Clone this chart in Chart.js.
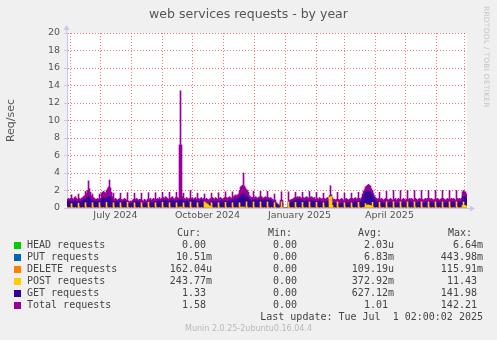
<!DOCTYPE html>
<html lang="en">
<head>
  <meta charset="UTF-8" />
  <title>web services requests - by year</title>
  <script src="https://cdn.jsdelivr.net/npm/chart.js"></script>
  <style>
    body {
      margin: 0;
      background: #f0f0f0;
      font-family: 'DejaVu Sans', sans-serif;
    }
    .wrap {
      position: relative;
      width: 497px;
      height: 340px;
      overflow: hidden;
    }
    #chart {
      position: absolute;
      left: 0;
      top: 0;
    }
    .title {
      position: absolute;
      top: 6px;
      left: 0;
      width: 497px;
      text-align: center;
      font-size: 12.5px;
      line-height: 16px;
      color: #555;
    }
    .rrd {
      position: absolute;
      left: 482px;
      top: 6px;
      writing-mode: vertical-rl;
      font-size: 7.4px;
      color: #c4c4c4;
      letter-spacing: 0.3px;
    }
    .legend div {
      position: absolute;
      font-family: 'DejaVu Sans Mono', monospace;
      font-size: 10px;
      line-height: 12px;
      color: #444;
      white-space: pre;
    }
    .legend .sw {
      width: 7px;
      height: 7px;
    }
    .legend .r {
      text-align: right;
    }
    .footer {
      position: absolute;
      top: 324px;
      left: 0;
      width: 497px;
      text-align: center;
      font-size: 8px;
      line-height: 10px;
      color: #b8b8b8;
    }
  </style>
</head>
<body>
<div class="wrap">
  <canvas id="chart" width="497" height="230"></canvas>
  <div class="title">web services requests - by year</div>
  <div class="rrd">RRDTOOL / TOBI OETIKER</div>
  <div class="legend" id="legend"></div>
  <div class="footer">Munin 2.0.25-2ubuntu0.16.04.4</div>
</div>

<script>
  // one value per day, 400 days (one pixel each)
  const totalReq = [
    1.0, 1.1, 1.0, 1.1,
    1.5, 1.1, 1.0, 1.2, 1.3, 1.1, 1.0,
    1.6, 1.1, 1.0, 1.1, 1.2, 1.3, 1.4,
    1.9, 1.7, 2.0, 3.1, 2.2, 1.8, 1.4,
    1.6, 1.2, 1.1, 1.0, 1.0, 1.1, 1.0,
    1.6, 1.1, 1.7, 1.8, 1.9, 1.8, 1.7,
    2.0, 2.2, 2.4, 3.2, 2.3, 1.8, 1.3,
    1.7, 1.0, 1.1, 1.0, 0.9, 1.0, 1.1,
    1.7, 1.0, 0.9, 1.0, 1.1, 1.0, 0.9,
    1.75, 0.8, 0.7, 0.8, 0.7, 0.9, 1.0,
    1.7, 1.0, 1.1, 1.0, 0.9, 1.0, 1.0,
    1.7, 0.9, 0.8, 1.0, 0.9, 0.8, 1.0,
    1.75, 1.0, 1.1, 0.9, 1.0, 1.1, 1.0,
    1.75, 1.0, 1.1, 1.0, 1.2, 1.0, 1.1,
    1.8, 1.2, 1.1, 1.3, 1.2, 1.1, 1.0,
    1.8, 1.1, 1.2, 1.3, 1.1, 1.0, 1.2,
    1.8, 1.2, 1.1, 7.2, 13.4, 7.2, 1.3,
    1.7, 1.1, 1.0, 1.2, 1.1, 1.0, 1.1,
    2.0, 1.1, 1.2, 1.0, 1.1, 1.2, 1.0,
    1.7, 1.1, 1.0, 1.1, 1.2, 1.0, 1.1,
    1.6, 1.0, 1.1, 1.0, 0.9, 1.0, 1.1,
    1.7, 1.2, 1.1, 1.0, 1.2, 1.1, 1.0,
    1.75, 1.1, 1.2, 1.1, 1.0, 1.1, 1.2,
    1.85, 1.2, 1.1, 1.2, 1.3, 1.2, 1.1,
    1.85, 1.3, 1.4, 1.5, 1.4, 1.5, 1.6,
    2.0, 2.4, 2.5, 2.6, 4.0, 2.5, 2.3,
    2.1, 2.0, 1.8, 1.4, 1.3, 1.2, 1.2,
    1.9, 1.2, 1.3, 1.2, 1.1, 1.2, 1.3,
    1.9, 1.3, 1.2, 1.1, 1.2, 1.3, 1.2,
    1.9, 1.2, 1.1, 1.2, 1.1, 1.0, 0.9,
    1.6, 0.9, 0.6, 0.5, 0.4, 0.2, 0.9,
    1.85, 0.9, 0.05, 0, 0, 0.05, 0,
    1.85, 0.9, 0.9, 1.0, 1.0, 1.1, 1.2,
    1.8, 1.2, 1.3, 1.2, 1.3, 1.2, 1.1,
    1.8, 1.2, 1.1, 1.2, 1.3, 1.2, 1.1,
    1.9, 1.2, 1.3, 1.2, 1.1, 1.2, 1.0,
    1.8, 1.1, 1.0, 1.2, 1.1, 1.0, 1.1,
    1.7, 1.1, 1.0, 1.1, 1.2, 1.0, 1.4,
    2.55, 1.5, 1.2, 1.0, 1.0, 0.9, 1.0,
    1.8, 1.0, 0.9, 1.0, 1.1, 1.0, 0.9,
    1.7, 1.0, 1.1, 1.0, 0.9, 1.0, 1.1,
    1.7, 1.1, 1.0, 1.1, 1.2, 1.0, 1.1,
    1.8, 1.1, 1.0, 1.2, 1.6, 1.9, 2.1,
    2.4, 2.5, 2.6, 2.7, 2.6, 2.5, 2.2,
    2.0, 1.7, 1.4, 1.2, 1.1, 1.0, 1.1,
    1.8, 1.0, 1.1, 1.0, 0.9, 1.0, 1.1,
    1.9, 1.0, 0.9, 1.0, 1.1, 1.0, 0.9,
    2.0, 1.0, 1.1, 0.9, 1.0, 1.1, 1.0,
    2.0, 0.9, 1.0, 1.1, 1.0, 0.9, 1.0,
    2.0, 1.0, 1.1, 1.0, 1.1, 1.0, 0.9,
    2.0, 1.1, 1.0, 0.9, 1.0, 1.1, 1.0,
    2.0, 1.0, 0.9, 1.0, 1.1, 1.0, 1.1,
    2.0, 1.1, 1.0, 1.1, 1.0, 0.9, 1.0,
    2.0, 1.0, 1.1, 1.0, 0.9, 1.0, 1.1,
    2.0, 1.1, 1.0, 0.9, 1.0, 1.1, 1.0,
    2.0, 1.0, 1.1, 1.0, 1.1, 1.0, 0.9,
    2.0, 1.1, 1.0, 1.1, 1.0, 1.1, 1.85,
    2.0, 1.85, 1.85, 1.6
  ];

  const getReq = [
    0.8, 0.8, 0.7, 0.8,
    0.7, 0.8, 0.7, 0.8, 0.9, 0.7, 0.6,
    0.7, 0.8, 0.7, 0.6, 0.8, 0.9, 1.0,
    1.0, 1.1, 1.2, 1.3, 1.2, 1.0, 0.9,
    0.8, 0.7, 0.8, 0.7, 0.6, 0.8, 0.7,
    0.8, 0.7, 1.0, 1.1, 1.2, 1.1, 1.0,
    1.1, 1.2, 1.3, 1.3, 1.2, 1.0, 0.8,
    0.7, 0.6, 0.7, 0.8, 0.6, 0.7, 0.8,
    0.7, 0.7, 0.6, 0.7, 0.8, 0.7, 0.6,
    0.6, 0.5, 0.4, 0.5, 0.4, 0.6, 0.7,
    0.7, 0.7, 0.8, 0.7, 0.6, 0.7, 0.6,
    0.6, 0.5, 0.5, 0.6, 0.5, 0.4, 0.6,
    0.6, 0.6, 0.7, 0.5, 0.6, 0.7, 0.6,
    0.7, 0.7, 0.8, 0.7, 0.8, 0.7, 0.7,
    0.8, 0.9, 0.8, 0.9, 0.9, 0.8, 0.7,
    0.8, 0.8, 0.9, 0.9, 0.8, 0.7, 0.8,
    0.8, 0.9, 0.8, 0.9, 1.0, 0.9, 0.9,
    0.8, 0.8, 0.7, 0.8, 0.8, 0.7, 0.8,
    0.9, 0.8, 0.9, 0.7, 0.8, 0.9, 0.7,
    0.8, 0.8, 0.7, 0.8, 0.9, 0.7, 0.8,
    0.6, 0.5, 0.5, 0.5, 0.4, 0.5, 0.6,
    0.7, 0.8, 0.7, 0.6, 0.8, 0.7, 0.6,
    0.8, 0.7, 0.8, 0.8, 0.7, 0.8, 0.8,
    0.8, 0.8, 0.7, 0.8, 0.9, 0.8, 0.7,
    0.9, 0.9, 1.0, 1.1, 1.0, 1.0, 1.1,
    1.2, 1.4, 1.5, 1.5, 1.6, 1.5, 1.4,
    1.3, 1.2, 1.1, 0.9, 0.9, 0.8, 0.9,
    0.9, 0.9, 1.0, 0.9, 0.8, 0.9, 1.0,
    0.9, 1.0, 0.9, 0.8, 0.9, 1.0, 0.9,
    0.9, 0.9, 0.8, 0.9, 0.8, 0.7, 0.6,
    0.6, 0.6, 0.4, 0.3, 0.3, 0.1, 0.6,
    0.6, 0.6, 0, 0, 0, 0, 0,
    0.6, 0.6, 0.6, 0.7, 0.7, 0.8, 0.9,
    0.9, 0.9, 1.0, 0.9, 1.0, 0.9, 0.8,
    0.8, 0.8, 0.7, 0.8, 0.9, 0.8, 0.7,
    0.8, 0.8, 0.9, 0.8, 0.7, 0.8, 0.7,
    0.7, 0.7, 0.6, 0.8, 0.7, 0.6, 0.7,
    0.6, 0.7, 0.6, 0.7, 0.8, 0.6, 0.6,
    0.8, 0.6, 0.6, 0.5, 0.6, 0.5, 0.5,
    0.5, 0.5, 0.4, 0.5, 0.6, 0.5, 0.4,
    0.6, 0.6, 0.7, 0.6, 0.5, 0.6, 0.7,
    0.6, 0.7, 0.6, 0.7, 0.8, 0.6, 0.7,
    0.7, 0.7, 0.6, 0.8, 1.1, 1.4, 1.6,
    1.8, 1.9, 2.0, 2.0, 1.9, 1.8, 1.6,
    1.4, 1.2, 1.0, 0.8, 0.7, 0.6, 0.7,
    0.6, 0.6, 0.7, 0.6, 0.5, 0.6, 0.7,
    0.6, 0.6, 0.5, 0.6, 0.7, 0.6, 0.5,
    0.6, 0.5, 0.6, 0.4, 0.5, 0.6, 0.5,
    0.6, 0.5, 0.6, 0.7, 0.6, 0.5, 0.6,
    0.7, 0.6, 0.7, 0.6, 0.7, 0.6, 0.5,
    0.6, 0.7, 0.6, 0.5, 0.6, 0.7, 0.6,
    0.6, 0.6, 0.5, 0.6, 0.7, 0.6, 0.7,
    0.7, 0.7, 0.6, 0.7, 0.6, 0.5, 0.6,
    0.6, 0.6, 0.7, 0.6, 0.5, 0.6, 0.7,
    0.7, 0.7, 0.6, 0.5, 0.6, 0.7, 0.6,
    0.6, 0.6, 0.7, 0.6, 0.7, 0.6, 0.5,
    0.6, 0.7, 0.6, 0.7, 0.6, 0.7, 1.3,
    0.8, 1.3, 1.3, 1.1
  ];

  const postReq = [
    0.1, 0, 0.05, 0,
    0.5, 0.1, 0, 0, 0.05, 0, 0,
    0.55, 0.1, 0, 0, 0.05, 0, 0,
    0.6, 0.1, 0, 0, 0.05, 0, 0,
    0.6, 0.1, 0, 0, 0.05, 0, 0,
    0.6, 0.1, 0, 0, 0.05, 0, 0,
    0.65, 0.1, 0, 0, 0.05, 0, 0,
    0.6, 0.1, 0, 0, 0.05, 0, 0,
    0.6, 0.1, 0, 0, 0.05, 0, 0,
    0.65, 0.1, 0, 0, 0.05, 0, 0,
    0.6, 0.1, 0, 0, 0.05, 0, 0,
    0.6, 0.1, 0, 0, 0.05, 0, 0,
    0.65, 0.1, 0, 0, 0.05, 0, 0,
    0.6, 0.1, 0, 0, 0.05, 0, 0,
    0.65, 0.1, 0, 0, 0.05, 0, 0,
    0.6, 0.1, 0, 0, 0.05, 0, 0,
    0.6, 0.1, 0, 0.1, 0.1, 0.1, 0,
    0.6, 0.1, 0, 0, 0.05, 0, 0,
    0.7, 0.1, 0, 0, 0.05, 0, 0,
    0.6, 0.1, 0, 0, 0.05, 0, 0,
    0.7, 0.6, 0.5, 0.45, 0.35, 0.25, 0.15,
    0.6, 0.1, 0, 0, 0.05, 0, 0,
    0.6, 0.1, 0, 0, 0.05, 0, 0,
    0.65, 0.1, 0, 0, 0.05, 0, 0,
    0.6, 0.1, 0, 0, 0.05, 0, 0,
    0.6, 0.1, 0.1, 0.1, 0.1, 0.1, 0,
    0.7, 0.1, 0, 0, 0.05, 0, 0,
    0.7, 0.1, 0, 0, 0.05, 0, 0,
    0.7, 0.1, 0, 0, 0.05, 0, 0,
    0.7, 0.1, 0, 0, 0.05, 0, 0,
    0.6, 0.1, 0, 0, 0, 0, 0.1,
    0.7, 0.1, 0, 0, 0, 0, 0,
    0.7, 0.1, 0, 0, 0.05, 0, 0,
    0.65, 0.1, 0, 0, 0.05, 0, 0,
    0.65, 0.1, 0, 0, 0.05, 0, 0,
    0.7, 0.1, 0, 0, 0.05, 0, 0,
    0.65, 0.1, 0, 0, 0.05, 0, 0,
    0.6, 0.1, 0, 0, 0.05, 0, 1.2,
    1.3, 1.3, 0.3, 0, 0.05, 0, 0,
    0.7, 0.1, 0, 0, 0.05, 0, 0,
    0.6, 0.1, 0, 0, 0.05, 0, 0,
    0.6, 0.1, 0, 0, 0.05, 0, 0,
    0.65, 0.1, 0, 0, 0.05, 0, 0.1,
    0.5, 0.3, 0.35, 0.35, 0.3, 0.3, 0.2,
    0.65, 0.1, 0, 0, 0.05, 0, 0,
    0.65, 0.1, 0, 0, 0.05, 0, 0,
    0.7, 0.1, 0, 0, 0.05, 0, 0,
    0.7, 0.1, 0, 0, 0.05, 0, 0,
    0.7, 0.1, 0, 0, 0.05, 0, 0,
    0.7, 0.1, 0, 0, 0.05, 0, 0,
    0.7, 0.1, 0, 0, 0.05, 0, 0,
    0.7, 0.1, 0, 0, 0.05, 0, 0,
    0.7, 0.1, 0, 0, 0.05, 0, 0,
    0.7, 0.1, 0, 0, 0.05, 0, 0,
    0.7, 0.1, 0, 0, 0.05, 0, 0,
    0.7, 0.1, 0, 0, 0.05, 0, 0,
    0.7, 0.1, 0, 0, 0.05, 0, 0.3,
    0.7, 0.3, 0.3, 0.2
  ];

  // day index of each month start (Jun 2024 .. Jul 2025)
  const monthLines = [3, 33, 64, 95, 125, 156, 187, 218, 249, 277, 308, 338, 369, 397];
  // labels sit in the middle of their month
  const labelDays = [48.5, 140.5, 232.5, 322.5];
  const labelTexts = ["July 2024", "October 2024", "January 2025", "April 2025"];

  const series = [
    { name: "HEAD requests", color: "#00cc00", cur: "0.00 ", min: "0.00 ", avg: "2.03u", max: "6.64m" },
    { name: "PUT requests", color: "#0066b3", cur: "10.51m", min: "0.00 ", avg: "6.83m", max: "443.98m" },
    { name: "DELETE requests", color: "#ff8000", cur: "162.04u", min: "0.00 ", avg: "109.19u", max: "115.91m" },
    { name: "POST requests", color: "#ffcc00", cur: "243.77m", min: "0.00 ", avg: "372.92m", max: "11.43 " },
    { name: "GET requests", color: "#330099", cur: "1.33 ", min: "0.00 ", avg: "627.12m", max: "141.98 " },
    { name: "Total requests", color: "#990099", cur: "1.58 ", min: "0.00 ", avg: "1.01 ", max: "142.21 " }
  ];

  const gridRed = "rgba(232, 90, 90, 0.8)";
  const axisBlue = "#c8c8ee";

  const pts = arr => arr.map((v, i) => ({ x: i + 0.5, y: v }));

  // white plot background and the little axis arrows
  const plotDeco = {
    id: "plotDeco",
    beforeDraw(chart) {
      const { ctx, chartArea: a } = chart;
      ctx.save();
      ctx.fillStyle = "#ffffff";
      ctx.fillRect(a.left, a.top, a.right - a.left, a.bottom - a.top);
      ctx.restore();
    },
    afterDraw(chart) {
      const { ctx, chartArea: a } = chart;
      ctx.save();
      ctx.strokeStyle = axisBlue;
      ctx.fillStyle = axisBlue;
      ctx.lineWidth = 1;
      ctx.beginPath();
      ctx.moveTo(a.left - 0.5, a.top);
      ctx.lineTo(a.left - 0.5, a.top - 5);
      ctx.moveTo(a.right, a.bottom + 0.5);
      ctx.lineTo(a.right + 5, a.bottom + 0.5);
      ctx.stroke();
      ctx.beginPath();
      ctx.moveTo(a.left - 3.5, a.top - 3);
      ctx.lineTo(a.left + 2.5, a.top - 3);
      ctx.lineTo(a.left - 0.5, a.top - 8);
      ctx.closePath();
      ctx.fill();
      ctx.beginPath();
      ctx.moveTo(a.right + 3, a.bottom - 2.5);
      ctx.lineTo(a.right + 3, a.bottom + 3.5);
      ctx.lineTo(a.right + 8, a.bottom + 0.5);
      ctx.closePath();
      ctx.fill();
      ctx.restore();
    }
  };

  new Chart(document.getElementById("chart"), {
    type: "bar",
    data: {
      datasets: [
        { label: "POST requests", data: pts(postReq), backgroundColor: "#ffcc00" },
        { label: "GET requests", data: pts(getReq), backgroundColor: "#330099" },
        { label: "Total requests", data: pts(totalReq), backgroundColor: "#990099" }
      ]
    },
    options: {
      responsive: false,
      animation: false,
      grouped: false,
      categoryPercentage: 1,
      barPercentage: 1,
      layout: { padding: { top: 33, right: 30, left: 0, bottom: 0 } },
      plugins: {
        legend: { display: false },
        tooltip: { enabled: false }
      },
      scales: {
        x: {
          type: "linear",
          min: 0,
          max: 400,
          offset: false,
          z: 1,
          afterBuildTicks: s => { s.ticks = monthLines.map(v => ({ value: v })); },
          afterFit: s => { s.height = 0; },
          ticks: { display: false },
          grid: { color: gridRed, drawTicks: false, lineWidth: 1, offset: false },
          border: { display: true, color: axisBlue, dash: [1, 2] }
        },
        xl: {
          type: "linear",
          position: "bottom",
          min: 0,
          max: 400,
          offset: false,
          afterBuildTicks: s => { s.ticks = labelDays.map(v => ({ value: v })); },
          afterFit: s => { s.height = 22; },
          grid: { display: false, drawTicks: false },
          border: { display: false },
          ticks: {
            autoSkip: false,
            maxRotation: 0,
            padding: 2,
            color: "#555",
            font: { family: "DejaVu Sans", size: 9.5 },
            callback: (v, i) => labelTexts[i]
          }
        },
        y: {
          min: 0,
          max: 20,
          z: 1,
          afterFit: s => { s.width = 67; },
          ticks: {
            stepSize: 2,
            padding: 4,
            color: "#555",
            font: { family: "DejaVu Sans", size: 9.5 }
          },
          grid: {
            color: c => (c.tick && c.tick.value === 0 ? "rgba(0,0,0,0)" : gridRed),
            tickColor: axisBlue,
            tickLength: 3,
            tickBorderDash: []
          },
          border: { display: true, color: axisBlue, dash: [1, 2] },
          title: {
            display: true,
            text: "Req/sec",
            color: "#555",
            font: { family: "DejaVu Sans", size: 11 },
            padding: { top: 5, bottom: 0 }
          }
        }
      }
    },
    plugins: [plotDeco]
  });

  // legend block, laid out like the rrdtool text table
  const legend = document.getElementById("legend");
  const cols = [212, 303, 394, 483];
  const heads = [["Cur:", 177], ["Min:", 268], ["Avg:", 358], ["Max:", 448]];
  const add = (html, style, cls) => {
    const d = document.createElement("div");
    if (cls) d.className = cls;
    d.textContent = html;
    Object.assign(d.style, style);
    legend.appendChild(d);
    return d;
  };
  heads.forEach(([t, x]) => add(t, { left: x + "px", top: "227px" }));
  series.forEach((s, i) => {
    const top = 239 + 12 * i;
    add("", { left: "14px", top: (top + 3) + "px", background: s.color }, "sw");
    add(s.name, { left: "27px", top: top + "px" });
    [s.cur, s.min, s.avg, s.max].forEach((v, j) => {
      add(v, { right: (497 - cols[j]) + "px", top: top + "px" }, "r");
    });
  });
  add("Last update: Tue Jul  1 02:00:02 2025", { right: (497 - 483) + "px", top: "311px" }, "r");
</script>
</body>
</html>
